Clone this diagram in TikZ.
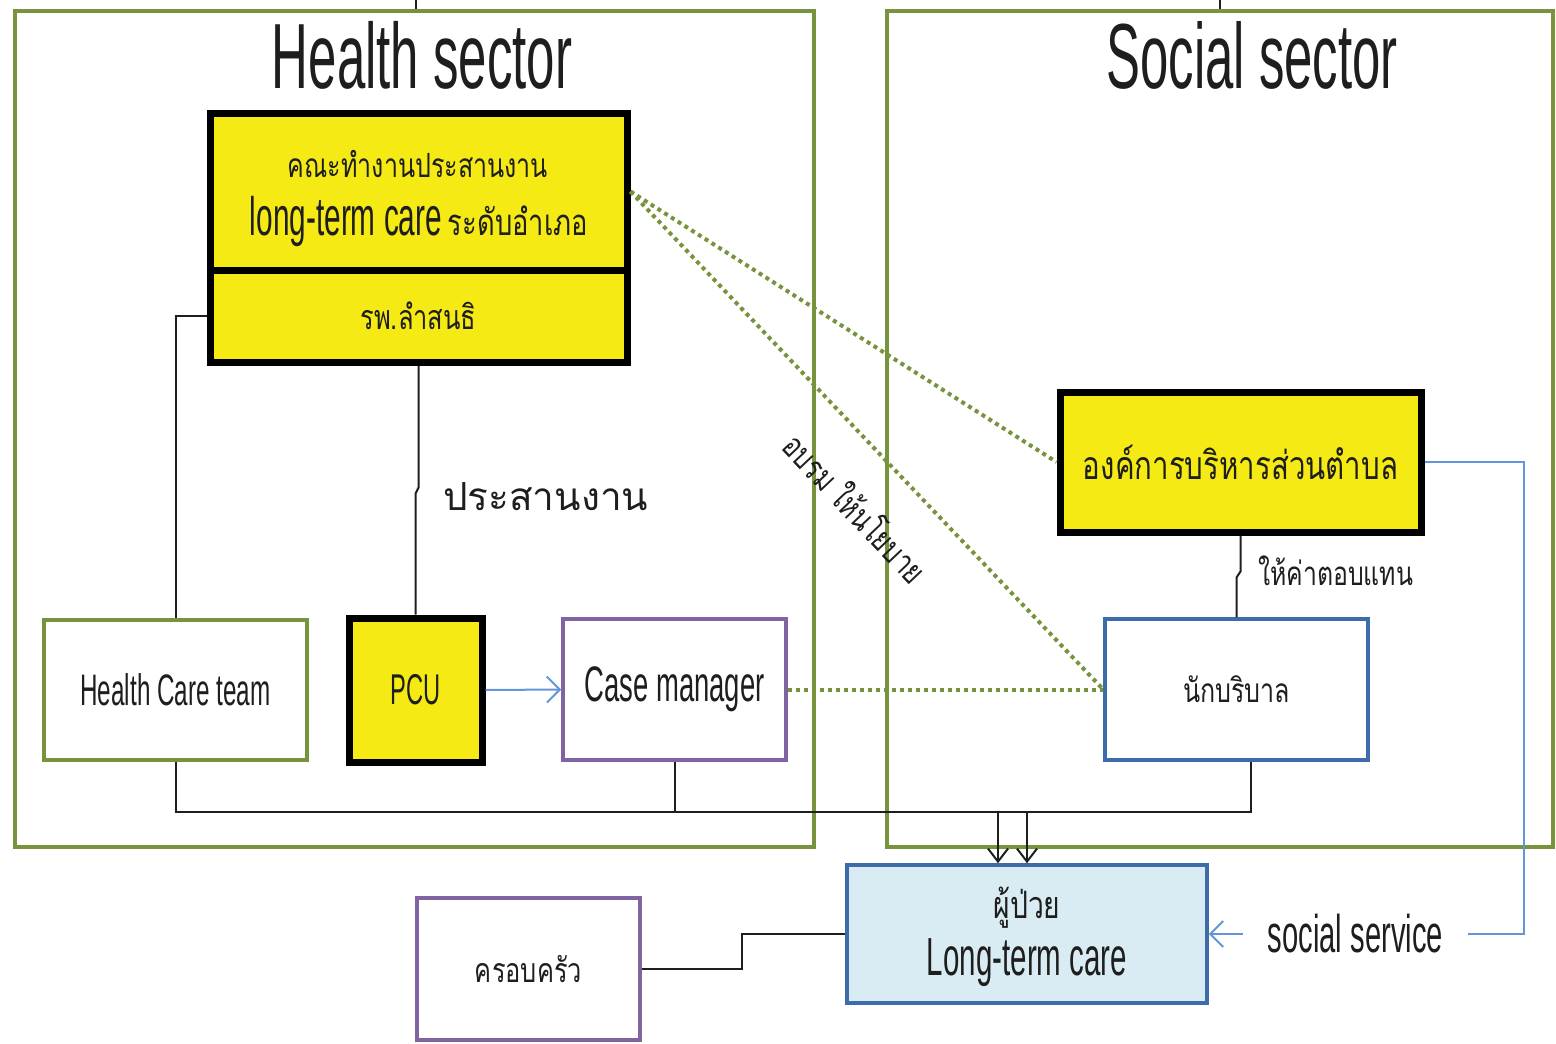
\documentclass[tikz,border=0pt]{standalone}
\usepackage{fontspec}
\usepackage{graphicx}
\setmainfont{Liberation Sans}
\newfontfamily\cond[FakeStretch=0.55]{Liberation Sans}
\newfontfamily\thai[Script=Thai,FakeStretch=0.75]{Loma}
\newfontfamily\thaiw[Script=Thai]{Loma}
\usetikzlibrary{arrows.meta,shadows}
\definecolor{sgreen}{RGB}{119,147,60}
\definecolor{ylw}{RGB}{245,234,20}
\definecolor{purp}{RGB}{128,100,162}
\definecolor{dblue}{RGB}{62,108,170}
\definecolor{lblue}{RGB}{218,236,243}
\definecolor{cblue}{RGB}{100,150,215}
\definecolor{ink}{RGB}{30,30,30}
\newcommand\fw[2]{\resizebox{#1}{!}{#2}}
\begin{document}
\begin{tikzpicture}[x=1pt,y=-1pt,
  plainbox/.style={rectangle, line width=3.5pt, inner sep=0pt, text=ink},
  ybox/.style={plainbox, draw=black, line width=7pt, fill=ylw,
    drop shadow={opacity=0.25, shadow xshift=2pt, shadow yshift=-3pt}},
  txt/.style={text=ink, inner sep=0pt},
  link/.style={draw=ink, line width=2pt},
  dotlink/.style={draw=sgreen, line width=4pt, dash pattern=on 4pt off 4pt},
  bluelink/.style={draw=cblue, line width=2pt},
  barbblue/.style={-{Straight Barb[length=13pt,width=26pt]}},
  barbblack/.style={-{Straight Barb[length=13pt,width=20pt]}},
]
\useasboundingbox (0,0) rectangle (1556,1044);

% sectors
\node[plainbox, draw=sgreen, line width=4pt, minimum width=799pt, minimum height=836pt] (health) at (414.5,429) {};
\node[plainbox, draw=sgreen, line width=4pt, minimum width=666pt, minimum height=836pt] (social) at (1220,429) {};
\node[txt, anchor=base] (htitle) at (422,88) {\fw{300pt}{\cond Health sector}};
\node[txt, anchor=base] (stitle) at (1252,88) {\fw{291pt}{\cond Social sector}};

% boxes
\node[ybox, minimum width=417pt, minimum height=157pt] (ltc) at (418.5,191.5) {};
\node[ybox, minimum width=417pt, minimum height=92pt] (hosp) at (418.5,316) {\fw{116pt}{\thai รพ.ลำสนธิ}};
\node[txt, anchor=base] (ltc1) at (418,177) {\fw{260pt}{\thai คณะทำงานประสานงาน}};
\node[txt, anchor=base] (ltc2) at (419,235) {\fw{192pt}{\cond long-term care}\hspace{6pt}\fw{140pt}{\thai ระดับอำเภอ}};

\node[plainbox, draw=sgreen, minimum width=263pt, minimum height=140pt] (hct) at (175.5,690) {\fw{190pt}{\cond Health Care team}};
\node[ybox, minimum width=133pt, minimum height=144pt] (pcu) at (415.5,690) {\fw{50pt}{\cond PCU}};
\node[plainbox, draw=purp, minimum width=223pt, minimum height=141pt] (cm) at (674.5,689.5) {\fw{180pt}{\cond Case manager}};
\node[plainbox, draw=dblue, minimum width=263pt, minimum height=141pt] (nak) at (1236.5,689.5) {\fw{107pt}{\thai นักบริบาล}};
\node[ybox, minimum width=361pt, minimum height=140pt] (obt) at (1240.5,462) {\fw{315pt}{\thai องค์การบริหารส่วนตำบล}};
\node[plainbox, draw=dblue, fill=lblue, minimum width=360pt, minimum height=138pt] (patient) at (1027,934) {};
\node[txt, anchor=base] (pt1) at (1027,918) {\fw{67pt}{\thai ผู้ป่วย}};
\node[txt, anchor=base] (pt2) at (1027,975) {\fw{200pt}{\cond Long-term care}};
\node[plainbox, draw=purp, minimum width=223pt, minimum height=142pt] (family) at (528.5,969) {\fw{107pt}{\thai ครอบครัว}};

% top stubs
\coordinate (tl) at (416,0);
\coordinate (tr) at (1220,0);
\draw[link] (tl) -- (tl |- health.north);
\draw[link] (tr) -- (tr |- social.north);

% connectors
\draw[link] (hosp.west) -| (hct.north);
\draw[link] (hosp.south) -- ++(0,122) -- ++(-3,6) -- (pcu.north);
\node[txt, anchor=base west] (coord) at (443,510) {\fw{205pt}{\thaiw ประสานงาน}};
\draw[bluelink, barbblue] (pcu.east) -- (cm.west);
\draw[dotlink] (cm.east) -- (nak.west);
\draw[dotlink] (ltc.east) -- (obt.west);
\draw[dotlink] (ltc.east) -- node[txt, pos=0.56, sloped, below=36pt] (train) {\fw{190pt}{\thai อบรม ให้นโยบาย}} (nak.west);
\draw[link] (obt.south) -- ++(0,36) -- ++(-4,6) -- (nak.north);
\node[txt, anchor=base west] (pay) at (1258,585) {\fw{155pt}{\thai ให้ค่าตอบแทน}};

% bus to patient
\coordinate (b1) at (998,812);
\coordinate (b2) at (1027,812);
\coordinate (nb) at ([xshift=14pt]nak.south);
\draw[link] (hct.south) |- (nb |- b1) -- (nb);
\draw[link] (cm.south) -- (cm.south |- b1);
\draw[link, barbblack] (b1) -- (b1 |- patient.north);
\draw[link, barbblack] (b2) -- (patient.north);

\draw[link] (family.east) -- ++(100,0) |- (patient.west);
\draw[bluelink, barbblue] (obt.east) -- ++(99,0) |- node[pos=0.767, fill=white, text=ink, inner xsep=25pt, inner ysep=2pt] (ss) {\fw{175pt}{\cond social service}} (patient.east);
\end{tikzpicture}
\end{document}
